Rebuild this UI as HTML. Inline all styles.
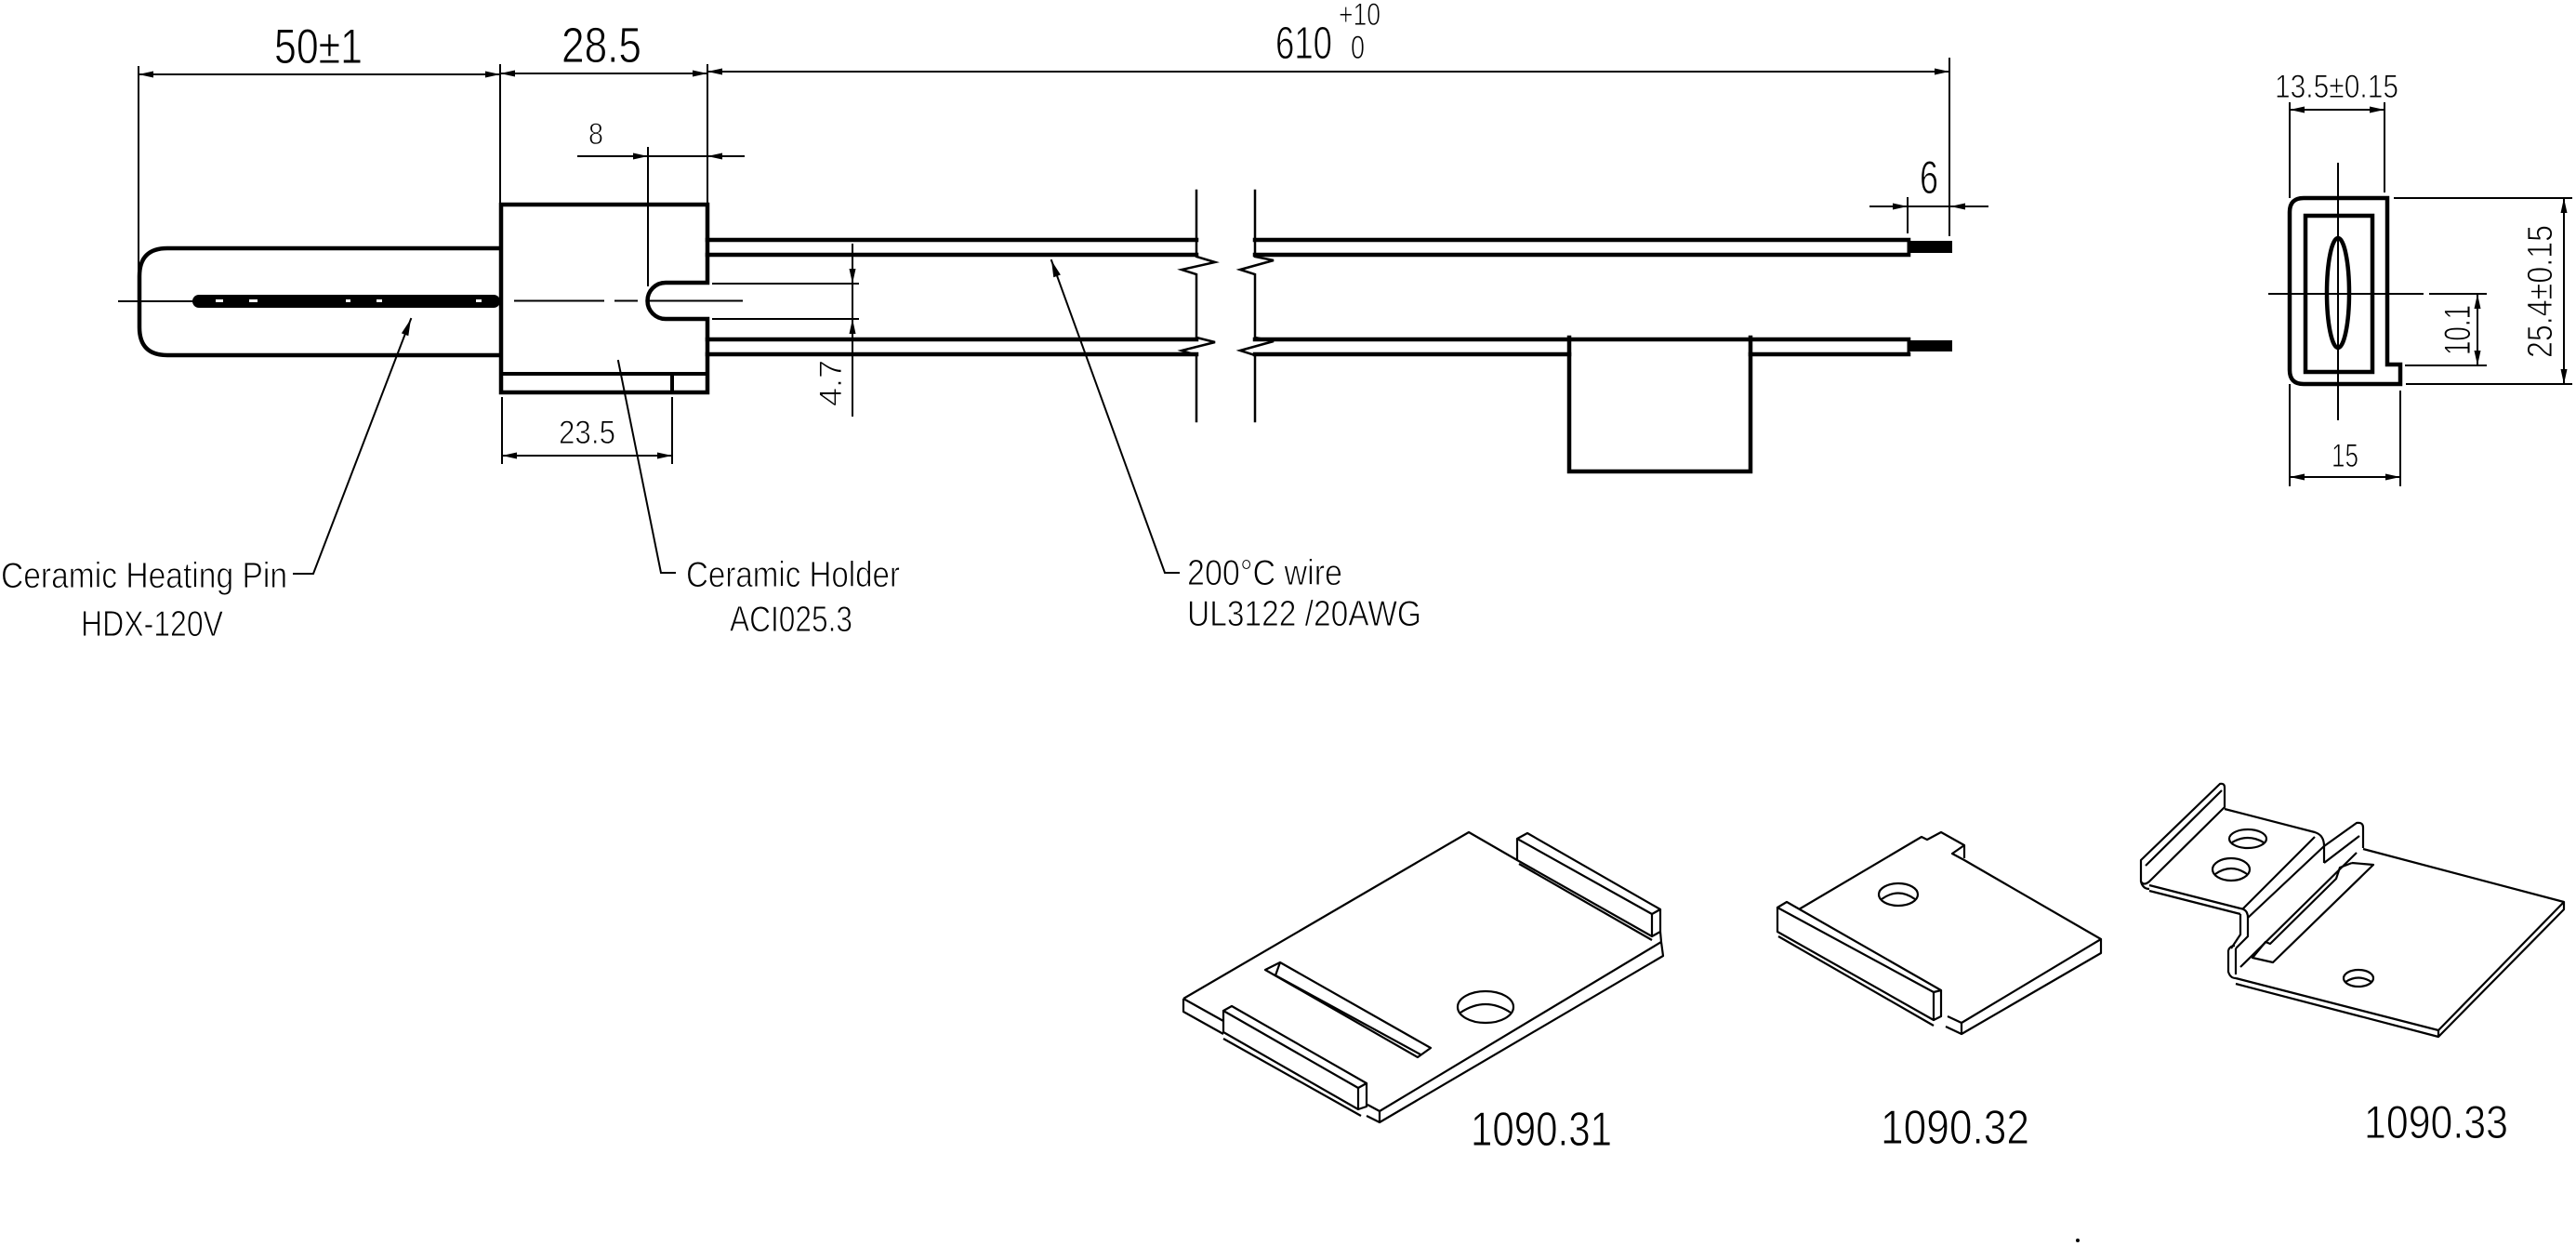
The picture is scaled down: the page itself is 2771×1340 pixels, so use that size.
<!DOCTYPE html>
<html><head><meta charset="utf-8"><style>
html,body{margin:0;padding:0;background:#fff;}
svg{display:block;}
text{font-family:"Liberation Sans",sans-serif;fill:#000;stroke:#fff;stroke-width:0.9;}
</style></head><body>
<svg width="2771" height="1340" viewBox="0 0 2771 1340" xmlns="http://www.w3.org/2000/svg">
<rect width="2771" height="1340" fill="#fff"/>
<g fill="none" stroke="#000" stroke-linecap="square">

<!-- ===== Pin ===== -->
<path d="M538,267 L180,267 Q150,267 150,297 L150,352 Q150,382 180,382 L538,382" stroke-width="4.5"/>
<!-- Holder -->
<path d="M539,220 L761,220 L761,304 L716,304 A19.5,19.5 0 0 0 716,343 L761,343 L761,422 L539,422 Z" stroke-width="4.5"/>
<line x1="539" y1="402" x2="761" y2="402" stroke-width="4"/>
<line x1="723" y1="402" x2="723" y2="422" stroke-width="4"/>

<!-- Wires upper -->
<line x1="761" y1="258" x2="1287" y2="258" stroke-width="4.5"/>
<line x1="761" y1="274" x2="1287" y2="274" stroke-width="4.5"/>
<line x1="1350" y1="258" x2="2053" y2="258" stroke-width="4.5"/>
<line x1="1350" y1="274" x2="2053" y2="274" stroke-width="4.5"/>
<line x1="2053" y1="258" x2="2053" y2="274" stroke-width="3"/>
<!-- Wires lower -->
<line x1="761" y1="365" x2="1287" y2="365" stroke-width="4.5"/>
<line x1="761" y1="381" x2="1287" y2="381" stroke-width="4.5"/>
<line x1="1350" y1="365" x2="2053" y2="365" stroke-width="4.5"/>
<line x1="1350" y1="381" x2="1688" y2="381" stroke-width="4.5"/>
<line x1="1883" y1="381" x2="2053" y2="381" stroke-width="4.5"/>
<line x1="2053" y1="365" x2="2053" y2="381" stroke-width="3"/>
<!-- tag box -->
<path d="M1688,363 L1688,507 L1883,507 L1883,363" stroke-width="4.5"/>

<!-- break lines -->
<path d="M1287,205 L1287,276 L1307,282 L1271,290 L1287,295 L1287,363 L1307,368 L1271,377 L1287,382 L1287,453" stroke-width="2.5"/>
<path d="M1350,205 L1350,276 L1370,280 L1334,290 L1350,295 L1350,363 L1370,367 L1334,377 L1350,382 L1350,453" stroke-width="2.5"/>

<!-- centre lines -->
<line x1="128" y1="324" x2="207" y2="324" stroke-width="2"/>
<line x1="554" y1="323.5" x2="649" y2="323.5" stroke-width="2"/>
<line x1="662" y1="323.5" x2="685" y2="323.5" stroke-width="2"/>
<line x1="697" y1="323.5" x2="798" y2="323.5" stroke-width="2"/>

<!-- ===== dimension lines (thin) ===== -->
<g stroke-width="2">
<line x1="149" y1="72" x2="149" y2="300"/>
<line x1="538" y1="70" x2="538" y2="220"/>
<line x1="761" y1="70" x2="761" y2="220"/>
<line x1="2097" y1="63" x2="2097" y2="253"/>
<line x1="149" y1="80" x2="538" y2="80"/>
<line x1="538" y1="79" x2="761" y2="79"/>
<line x1="761" y1="77" x2="2097" y2="77"/>
<line x1="622" y1="168" x2="800" y2="168"/>
<line x1="697" y1="159" x2="697" y2="307"/>
<line x1="540" y1="428" x2="540" y2="498"/>
<line x1="723" y1="428" x2="723" y2="498"/>
<line x1="540" y1="490" x2="723" y2="490"/>
<line x1="917" y1="263" x2="917" y2="447"/>
<line x1="767" y1="305" x2="923" y2="305"/>
<line x1="767" y1="343" x2="923" y2="343"/>
<line x1="2012" y1="222" x2="2138" y2="222"/>
<line x1="2052" y1="213" x2="2052" y2="250"/>
<polyline points="442,343 337,617 316,617"/>
<polyline points="665,388 711,616 726,616"/>
<polyline points="1131,280 1253,616 1268,616"/>
</g>
</g>

<!-- pin core -->
<rect x="207" y="317" width="331" height="14" rx="7" fill="#000"/>
<g fill="#fff">
<rect x="232" y="322" width="8" height="3"/>
<rect x="268" y="322" width="9" height="3"/>
<rect x="372" y="322" width="5" height="3"/>
<rect x="405" y="322" width="6" height="3"/>
<rect x="512" y="322" width="6" height="3"/>
</g>
<!-- conductors -->
<rect x="2053" y="259" width="47" height="13" fill="#000"/>
<rect x="2053" y="366" width="47" height="12" fill="#000"/>

<!-- arrowheads -->
<g fill="#000" stroke="none">
<polygon points="149,80 165,76.5 165,83.5"/>
<polygon points="538,80 522,76.5 522,83.5"/>
<polygon points="538,79 554,75.5 554,82.5"/>
<polygon points="761,79 745,75.5 745,82.5"/>
<polygon points="761,77 777,73.5 777,80.5"/>
<polygon points="2097,77 2081,73.5 2081,80.5"/>
<polygon points="697,168 681,164.5 681,171.5"/>
<polygon points="761,168 777,164.5 777,171.5"/>
<polygon points="540,490 556,486.5 556,493.5"/>
<polygon points="723,490 707,486.5 707,493.5"/>
<polygon points="917,305 913.5,289 920.5,289"/>
<polygon points="917,343 913.5,359 920.5,359"/>
<polygon points="2052,222 2036,218.5 2036,225.5"/>
<polygon points="2098,222 2114,218.5 2114,225.5"/>
<polygon points="442,343 439.3,361.2 431.9,358.4"/>
<polygon points="1131,280 1140.9,295.5 1133.3,298.3"/>
</g>

<!-- ===== Right end view ===== -->
<g fill="none" stroke="#000">
<path d="M2463,228 Q2463,213 2478,213 L2568,213 L2568,392 L2582,392 L2582,413 L2478,413 Q2463,413 2463,398 Z" stroke-width="4.5"/>
<rect x="2480" y="232" width="72" height="168" stroke-width="4.5"/>
<ellipse cx="2515" cy="315" rx="12" ry="59" stroke-width="4.5"/>
<g stroke-width="2">
<line x1="2515" y1="175" x2="2515" y2="452"/>
<line x1="2440" y1="316" x2="2607" y2="316"/>
<line x1="2613" y1="316" x2="2675" y2="316"/>
<line x1="2463" y1="110" x2="2463" y2="213"/>
<line x1="2463" y1="413" x2="2463" y2="523"/>
<line x1="2565" y1="110" x2="2565" y2="207"/>
<line x1="2463" y1="118" x2="2565" y2="118"/>
<line x1="2582" y1="420" x2="2582" y2="523"/>
<line x1="2463" y1="513" x2="2582" y2="513"/>
<line x1="2665" y1="316" x2="2665" y2="393"/>
<line x1="2587" y1="393" x2="2675" y2="393"/>
<line x1="2758" y1="213" x2="2758" y2="413"/>
<line x1="2575" y1="213" x2="2767" y2="213"/>
<line x1="2588" y1="413" x2="2767" y2="413"/>
</g>
</g>
<g fill="#000">
<polygon points="2463,118 2479,114.5 2479,121.5"/>
<polygon points="2565,118 2549,114.5 2549,121.5"/>
<polygon points="2463,513 2479,509.5 2479,516.5"/>
<polygon points="2582,513 2566,509.5 2566,516.5"/>
<polygon points="2665,316 2661.5,332 2668.5,332"/>
<polygon points="2665,393 2661.5,377 2668.5,377"/>
<polygon points="2758,213 2754.5,229 2761.5,229"/>
<polygon points="2758,413 2754.5,397 2761.5,397"/>
</g>

<!-- ===== Plates ===== -->
<g fill="none" stroke="#000" stroke-width="2.2" stroke-linejoin="round">
<!-- plate 1 -->
<path d="M1273,1074 L1580,895 L1632,925"/>
<path d="M1273,1074 L1316,1098"/>
<path d="M1273,1074 L1273,1088 L1316,1112"/>
<path d="M1787,1013 L1484,1195 L1484,1207 L1789,1028 L1787,1013"/>
<path d="M1484,1195 L1471,1188"/>
<path d="M1484,1207 L1470,1200"/>
<path d="M1632,902 L1777,983 L1786,978 L1643,896 Z"/>
<path d="M1632,902 L1632,925 L1777,1007 L1777,983"/>
<path d="M1786,978 L1786,1002 L1777,1007"/>
<path d="M1634,929 L1777,1011"/>
<path d="M1786,1002 L1787,1013"/>
<path d="M1316,1087 L1461,1170 L1470,1165 L1325,1082 Z"/>
<path d="M1316,1087 L1316,1110 L1461,1193 L1461,1170"/>
<path d="M1470,1165 L1470,1190 L1461,1193"/>
<path d="M1316,1117 L1464,1200"/>
<path d="M1361,1043 L1377,1035 L1539,1127 L1525,1137 Z"/>
<path d="M1372,1049 L1528,1134"/>
<path d="M1377,1035 L1372,1049"/>
<ellipse cx="1598" cy="1083" rx="30" ry="17"/>
<path d="M1571,1089 Q1598,1071 1625,1089"/>

<!-- plate 2 -->
<path d="M1912,976 L2080,1067 L2088,1065 L1922,970 Z"/>
<path d="M1912,976 L1912,1002 L2080,1097 L2080,1067"/>
<path d="M2088,1065 L2088,1093 L2080,1097"/>
<path d="M1913,1007 L2080,1103"/>
<path d="M1935,978 L2067,900 L2073,903 L2088,895 L2113,909 L2113,923"/>
<path d="M2113,909 L2100,918 L2113,925 L2260,1010 L2260,1025 L2110,1112 L2110,1100 L2260,1010"/>
<path d="M2110,1100 L2095,1093"/>
<path d="M2110,1112 L2093,1104"/>
<ellipse cx="2042" cy="962" rx="21" ry="12"/>
<path d="M2024,967 Q2042,954 2060,967"/>

<!-- plate 3 -->
<path d="M2303,948 L2303,925 L2388,843 Q2393,842 2393,847 L2393,868 L2312,948 Q2306,953 2303,948 Z"/>
<path d="M2308,931 L2390,850"/>
<path d="M2393,870 L2490,895 Q2500,898 2500,910"/>
<path d="M2312,952 L2410,977"/>
<path d="M2312,958 L2410,983"/>
<path d="M2303,948 Q2305,956 2312,956"/>
<path d="M2490,900 L2413,977"/>
<path d="M2500,910 L2418,987"/>
<path d="M2410,977 Q2418,978 2418,987"/>
<path d="M2410,983 L2410,1005 L2400,1020"/>
<path d="M2418,987 L2418,1007 L2405,1020"/>
<path d="M2397,1022 L2397,1045 Q2399,1052 2405,1052"/>
<path d="M2405,1020 L2405,1048"/>
<path d="M2397,1022 Q2399,1017 2404,1017"/>
<path d="M2405,1052 L2623,1108 L2758,970 L2758,978 L2623,1115 L2405,1058"/>
<path d="M2623,1108 L2623,1115"/>
<path d="M2542,913 L2758,970"/>
<path d="M2500,910 L2500,928"/>
<path d="M2500,910 L2535,885 Q2542,884 2542,890 L2542,912"/>
<path d="M2500,928 L2538,899"/>
<path d="M2530,928 L2553,930 L2445,1035 L2423,1030 L2437,1013 L2442,1015 L2513,945 L2517,933 L2530,928"/>
<path d="M2410,1040 L2535,917"/>
<ellipse cx="2418" cy="902" rx="20" ry="10"/>
<path d="M2401,906 Q2418,896 2435,906"/>
<ellipse cx="2400" cy="935" rx="20" ry="12"/>
<path d="M2383,940 Q2400,928 2417,940"/>
<ellipse cx="2537" cy="1052" rx="16" ry="9"/>
<path d="M2523,1056 Q2537,1047 2551,1056"/>
</g>
<circle cx="2235" cy="1334" r="2" fill="#000"/>

<!-- ===== Text ===== -->
<text x="295" y="68" font-size="53" textLength="95" lengthAdjust="spacingAndGlyphs">50±1</text>
<text x="604" y="67" font-size="54" textLength="86" lengthAdjust="spacingAndGlyphs">28.5</text>
<text x="1372" y="63" font-size="49" textLength="61" lengthAdjust="spacingAndGlyphs">610</text>
<text x="1440" y="27" font-size="34" textLength="45" lengthAdjust="spacingAndGlyphs">+10</text>
<text x="1453" y="63" font-size="35" textLength="15" lengthAdjust="spacingAndGlyphs">0</text>
<text x="633" y="155" font-size="32" textLength="16" lengthAdjust="spacingAndGlyphs">8</text>
<text x="601" y="477" font-size="35" textLength="61" lengthAdjust="spacingAndGlyphs">23.5</text>
<text transform="translate(905,437) rotate(-90)" x="0" y="0" font-size="34" textLength="50" lengthAdjust="spacingAndGlyphs">4.7</text>
<text x="2065" y="208" font-size="50" textLength="20" lengthAdjust="spacingAndGlyphs">6</text>
<text x="2447" y="105" font-size="35" textLength="133" lengthAdjust="spacingAndGlyphs">13.5±0.15</text>
<text transform="translate(2657,382) rotate(-90)" x="0" y="0" font-size="40" textLength="54" lengthAdjust="spacingAndGlyphs">10.1</text>
<text transform="translate(2745,385) rotate(-90)" x="0" y="0" font-size="38" textLength="143" lengthAdjust="spacingAndGlyphs">25.4±0.15</text>
<text x="2508" y="502" font-size="35" textLength="29" lengthAdjust="spacingAndGlyphs">15</text>

<text x="1" y="632" font-size="39" textLength="308" lengthAdjust="spacingAndGlyphs">Ceramic Heating Pin</text>
<text x="87" y="684" font-size="39" textLength="153" lengthAdjust="spacingAndGlyphs">HDX-120V</text>
<text x="738" y="631" font-size="39" textLength="230" lengthAdjust="spacingAndGlyphs">Ceramic Holder</text>
<text x="785" y="679" font-size="39" textLength="132" lengthAdjust="spacingAndGlyphs">ACI025.3</text>
<text x="1277" y="629" font-size="39" textLength="167" lengthAdjust="spacingAndGlyphs">200°C wire</text>
<text x="1277" y="673" font-size="39" textLength="252" lengthAdjust="spacingAndGlyphs">UL3122 /20AWG</text>

<text x="1582" y="1232" font-size="52" textLength="152" lengthAdjust="spacingAndGlyphs">1090.31</text>
<text x="2023" y="1230" font-size="52" textLength="160" lengthAdjust="spacingAndGlyphs">1090.32</text>
<text x="2543" y="1224" font-size="50" textLength="155" lengthAdjust="spacingAndGlyphs">1090.33</text>
</svg>
</body></html>
